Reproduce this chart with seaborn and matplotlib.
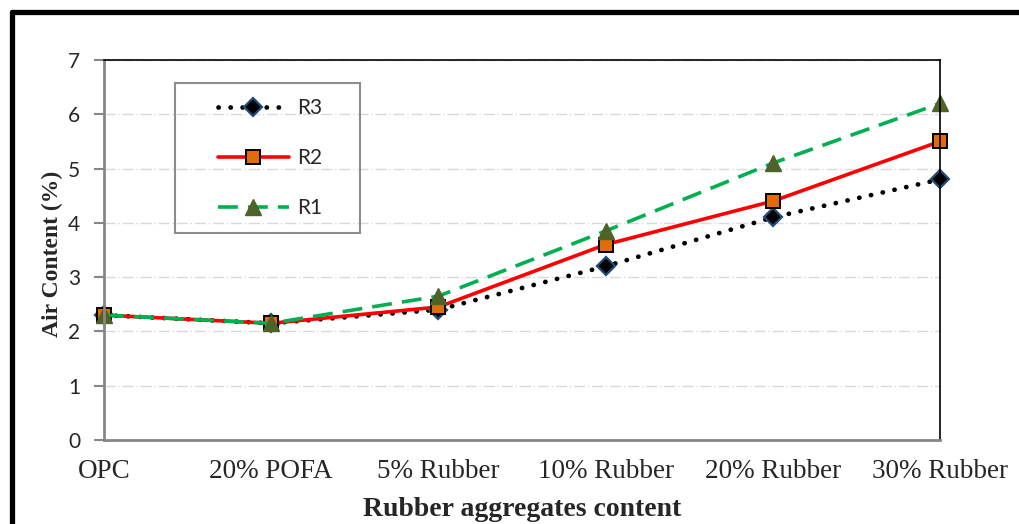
import matplotlib
matplotlib.use("Agg")
import matplotlib.pyplot as plt
from matplotlib.patches import Rectangle
from matplotlib.lines import Line2D
import pandas as pd
import seaborn as sns

# chart data
categories = ["OPC", "20% POFA", "5% Rubber", "10% Rubber", "20% Rubber", "30% Rubber"]
r3 = [2.3, 2.15, 2.4, 3.2, 4.1, 4.8]
r2 = [2.3, 2.15, 2.45, 3.6, 4.4, 5.5]
r1 = [2.3, 2.15, 2.65, 3.85, 5.1, 6.2]
y_ticks = [0, 1, 2, 3, 4, 5, 6, 7]

sns.set_style("white")
plt.rcParams["font.family"] = ["Liberation Serif", "DejaVu Serif"]

pos = list(range(len(categories)))
df = pd.DataFrame({"pos": pos * 3,
                   "value": r3 + r2 + r1,
                   "series": ["R3"] * 6 + ["R2"] * 6 + ["R1"] * 6})

W, H = 1019, 524
fig = plt.figure(figsize=(W / 100, H / 100), dpi=100)
ax = fig.add_axes([104 / W, 1 - 440 / H, 836 / W, 380 / H])

styles = {
    "R3": dict(color="black", linestyle=(0, (0.05, 2.5)), dash_capstyle="round",
               linewidth=3.4, marker="D", markersize=9, markerfacecolor="black",
               markeredgecolor="#1f4e79", markeredgewidth=1.6),
    "R2": dict(color="#ff0000", linestyle="-", linewidth=2.6, marker="s", markersize=10,
               markerfacecolor="#e36c0a", markeredgecolor="black", markeredgewidth=1.4),
    "R1": dict(color="#00b050", linestyle=(0, (5.5, 2.8)), linewidth=2.6, marker="^",
               markersize=12, markerfacecolor="#4f6228", markeredgecolor="#4f6228",
               markeredgewidth=1),
}
for name in ["R3", "R2", "R1"]:
    sub = df[df["series"] == name]
    sns.lineplot(data=sub, x="pos", y="value", ax=ax, label=name, clip_on=False,
                 **styles[name])

ax.set_xlim(0, 5)
ax.set_ylim(0, 7)
ax.set_yticks(y_ticks)
ax.set_xticks(pos)
ax.set_xticklabels(categories, fontsize=19.5)
ax.tick_params(axis="x", direction="in", length=7, color="#868686", width=1.5, pad=14)
ax.tick_params(axis="y", direction="out", length=7, color="#868686", width=1.5, pad=10,
               left=True, labelsize=15)
for lab in ax.get_yticklabels():
    lab.set_family(["Lato", "DejaVu Sans"])

ax.grid(axis="y", color="#d9d9d9", linestyle=(0, (8, 2, 1, 2)), linewidth=1)
ax.set_axisbelow(True)

for side in ["left", "bottom"]:
    ax.spines[side].set_color("#868686")
    ax.spines[side].set_linewidth(2)
for side in ["top", "right"]:
    ax.spines[side].set_color("black")
    ax.spines[side].set_linewidth(1.2)
    ax.spines[side].set_visible(True)

ax.set_xlabel("Rubber aggregates content", fontsize=20, fontweight="bold")
ax.set_ylabel("Air Content (%)", fontsize=17, fontweight="bold")
ax.xaxis.set_label_coords(0.5, -0.15)
ax.yaxis.set_label_coords(-0.049, 0.49)

# legend with its own box
ax.get_legend().remove()
handles, labels = ax.get_legend_handles_labels()
leg = fig.legend(handles, labels, loc="center", bbox_to_anchor=(270 / W, 1 - 158 / H),
                 frameon=False, handlelength=3.4, handletextpad=0.4, labelspacing=1.45,
                 prop={"family": ["Lato", "DejaVu Sans"], "size": 15})
fig.add_artist(Rectangle((175 / W, 1 - 233 / H), 185 / W, 150 / H, transform=fig.transFigure,
                         fill=False, edgecolor="#8c8c8c", linewidth=1.5))

# outer frame
fig.add_artist(Line2D([12 / W, 1.0], [1 - 12 / H, 1 - 12 / H], transform=fig.transFigure,
                      color="black", linewidth=3.8))
fig.add_artist(Line2D([12 / W, 12 / W], [0, 1 - 12 / H], transform=fig.transFigure,
                      color="black", linewidth=3.8))

fig.savefig("out.png", dpi=100, facecolor="white")
